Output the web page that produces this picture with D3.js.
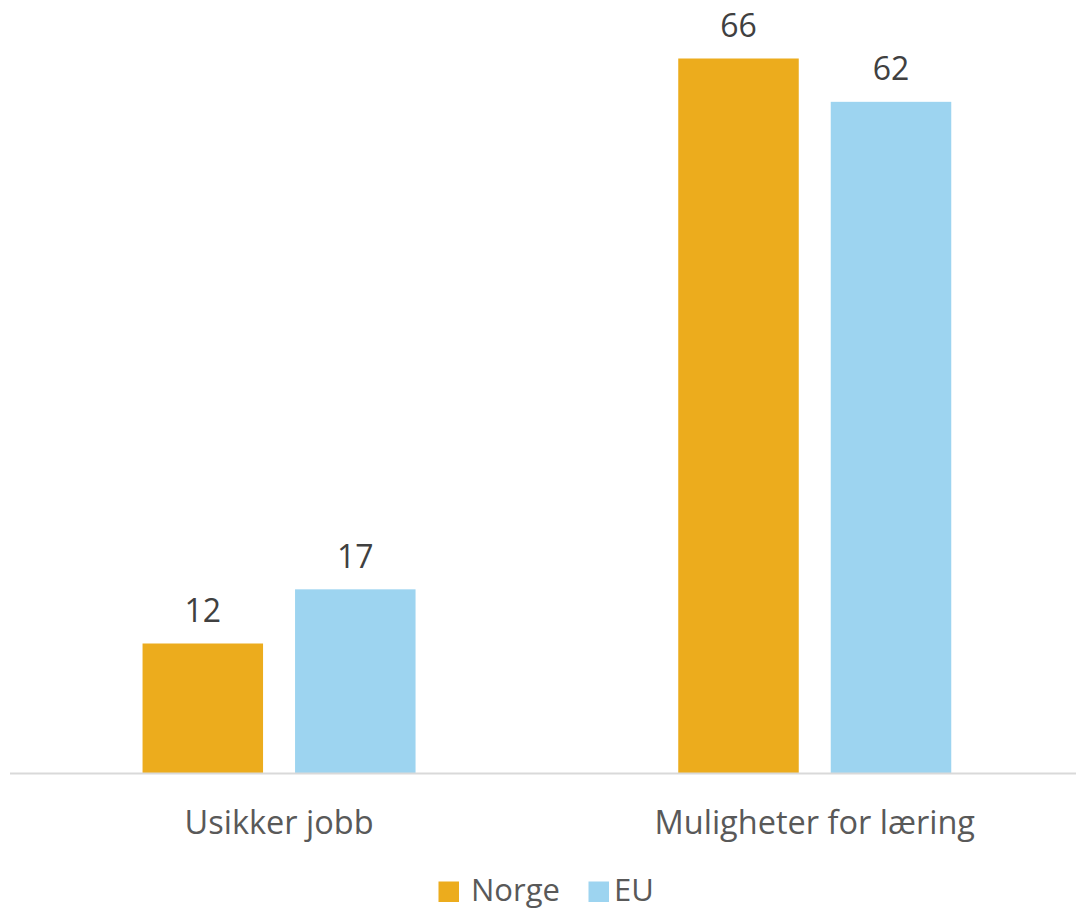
<!DOCTYPE html>
<html>
<head>
<meta charset="utf-8">
<script src="https://cdn.jsdelivr.net/npm/d3@7"></script>
<style>
  html, body { margin: 0; padding: 0; background: #fff; }
  svg { display: block; font-family: "Open Sans", "Noto Sans", sans-serif; }
</style>
</head>
<body>
<svg id="chart" width="1076" height="911"></svg>
<script>
const categories = ["Usikker jobb", "Muligheter for læring"];
const seriesNames = ["Norge", "EU"];
const norge = [12, 66];
const eu = [17, 62];
const colors = ["#ECAC1D", "#9DD4F0"];

const svg = d3.select("#chart");
const W = 1076, H = 911;
const baseY = 773.5;

const x0 = d3.scaleBand().domain(categories).range([11.2, 1082.6]).paddingInner(0).paddingOuter(0);
const groupW = 273;
const x1 = d3.scaleBand().domain(seriesNames).range([0, groupW]).paddingInner(32 / 152.5).paddingOuter(0);
const y = d3.scaleLinear().domain([0, 66]).range([baseY, 58.5]);

const rows = categories.map((c, i) => ({ cat: c, vals: [norge[i], eu[i]] }));

const groups = svg.selectAll("g.grp").data(rows).join("g")
  .attr("class", "grp")
  .attr("transform", d => `translate(${x0(d.cat) + x0.bandwidth() / 2 - groupW / 2},0)`);

groups.selectAll("rect").data(d => d.vals.map((v, k) => ({ s: seriesNames[k], v, k })))
  .join("rect")
  .attr("x", d => x1(d.s))
  .attr("width", x1.bandwidth())
  .attr("y", d => y(d.v))
  .attr("height", d => baseY - y(d.v))
  .attr("fill", d => colors[d.k]);

groups.selectAll("text.val").data(d => d.vals.map((v, k) => ({ s: seriesNames[k], v, k })))
  .join("text")
  .attr("class", "val")
  .attr("x", d => x1(d.s) + x1.bandwidth() / 2)
  .attr("y", d => y(d.v) - 21.5)
  .attr("text-anchor", "middle")
  .attr("font-size", 32)
  .attr("fill", "#404040")
  .text(d => d.v);

// category axis
const axis = svg.append("g").attr("transform", `translate(0,${baseY})`)
  .call(d3.axisBottom(x0).tickSize(0).tickPadding(0));
axis.select(".domain").attr("stroke", "#D9D9D9").attr("stroke-width", 2)
  .attr("d", `M10,0H${W}`);
axis.selectAll(".tick text")
  .attr("font-size", 32.5)
  .attr("font-family", "\"Open Sans\", sans-serif")
  .attr("fill", "#595959")
  .attr("dy", null)
  .attr("y", 60);

// legend
const legend = svg.append("g");
const legendItems = [
  { name: seriesNames[0], color: colors[0], sx: 438.5, tx: 471 },
  { name: seriesNames[1], color: colors[1], sx: 588.5, tx: 614 }
];
legendItems.forEach(it => {
  legend.append("rect").attr("x", it.sx).attr("y", 881.5).attr("width", 20.5).attr("height", 20.5).attr("fill", it.color);
  legend.append("text").attr("x", it.tx).attr("y", 901).attr("font-size", 31).attr("fill", "#595959").text(it.name);
});
</script>
</body>
</html>
